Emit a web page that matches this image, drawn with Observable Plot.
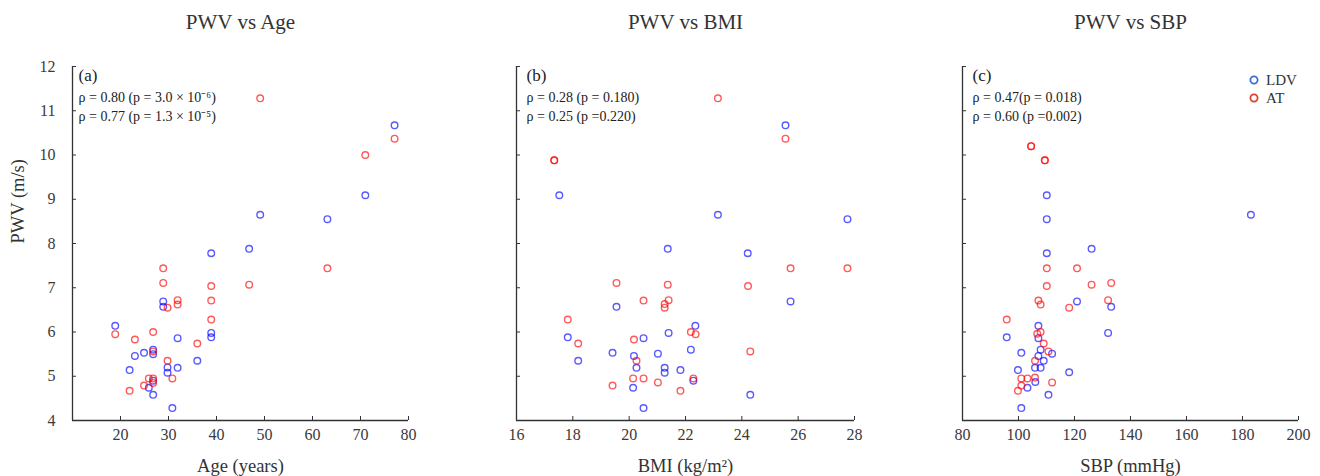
<!DOCTYPE html>
<html><head><meta charset="utf-8">
<script src="https://cdn.jsdelivr.net/npm/d3@7"></script>
<script src="https://cdn.jsdelivr.net/npm/@observablehq/plot@0.6"></script>
<style>
body{margin:0;background:#fff;}
#wrap{position:relative;width:1320px;height:476px;font-family:"Liberation Serif","Times New Roman",serif;}
#wrap > svg{position:absolute;top:0;}
#wrap svg text{font-family:"Liberation Serif","Times New Roman",serif;}
#legend{position:absolute;left:1248px;top:71px;font-size:15px;color:#333;line-height:18px;}
#legend div{display:flex;align-items:center;}
#legend svg{margin-right:6px;}
</style></head><body><div id="wrap"><div id="legend"></div></div>
<script>
// ---- data ----
const yTicks = [4,5,6,7,8,9,10,11,12];
const yDomain = [4,12];
const yLabel = "PWV (m/s)";

const titles = ["PWV vs Age","PWV vs BMI","PWV vs SBP"];
const tags = ["(a)","(b)","(c)"];
const xLabels = ["Age (years)","BMI (kg/m²)","SBP (mmHg)"];
const rhoLDV = ["ρ = 0.80 (p = 3.0 × 10⁻⁶)","ρ = 0.28 (p = 0.180)","ρ = 0.47(p = 0.018)"];
const rhoAT  = ["ρ = 0.77 (p = 1.3 × 10⁻⁵)","ρ = 0.25 (p =0.220)","ρ = 0.60 (p =0.002)"];
const legendLabels = ["LDV","AT"];

const ageTicks = [20,30,40,50,60,70,80];
const bmiTicks = [16,18,20,22,24,26,28];
const sbpTicks = [80,100,120,140,160,180,200];

// Panel (a): Age
const ageLDV = [77.1,71.0,49.1,63.1,46.8,38.9,28.9,28.9,18.9,38.9,38.9,31.9,24.9,23.0,26.8,26.8,36.0,29.8,29.8,31.9,21.9,26.8,25.9,26.8,30.8];
const pwvAgeLDV = [10.67,9.09,8.65,8.55,7.88,7.78,6.69,6.57,6.14,5.98,5.88,5.86,5.53,5.46,5.60,5.50,5.35,5.20,5.08,5.19,5.14,4.90,4.74,4.58,4.28];
const ageAT = [49.1,77.1,71.0,28.9,63.1,28.9,38.9,46.8,29.8,31.9,31.9,38.9,38.9,18.9,26.8,23.0,36.0,26.8,29.8,25.9,26.8,30.8,26.8,24.9,21.9];
const pwvAgeAT = [11.28,10.37,10.00,7.44,7.44,7.11,7.04,7.07,6.55,6.72,6.62,6.71,6.28,5.95,6.00,5.83,5.74,5.56,5.35,4.95,4.95,4.95,4.85,4.79,4.67];

// Panel (b): BMI
const bmiLDV = [25.55,17.52,23.15,27.75,21.37,24.21,25.73,19.55,22.35,21.40,17.82,20.51,22.19,19.41,21.02,20.17,18.19,20.26,21.26,21.26,21.82,22.28,20.14,24.30,20.51];
const pwvBmiLDV = [10.67,9.09,8.65,8.55,7.88,7.78,6.69,6.57,6.14,5.98,5.88,5.86,5.60,5.53,5.51,5.46,5.35,5.19,5.19,5.08,5.14,4.90,4.74,4.58,4.28];
const bmiAT = [23.15,25.55,17.34,17.34,25.73,27.75,19.55,21.37,24.22,20.51,21.40,21.26,21.26,17.82,22.19,22.36,20.17,18.19,24.30,20.26,20.14,20.51,22.28,21.02,19.41,21.82];
const pwvBmiAT = [11.28,10.37,9.88,9.88,7.44,7.44,7.11,7.07,7.04,6.71,6.72,6.63,6.55,6.28,6.00,5.95,5.83,5.74,5.56,5.35,4.95,4.95,4.95,4.86,4.79,4.67];

// Panel (c): SBP
const sbpLDV = [110.1,183.0,110.1,126.1,110.1,120.9,133.1,107.1,132.0,107.1,95.8,107.9,101.0,112.0,107.1,109.0,105.9,107.9,99.8,118.1,106.0,103.2,110.7,101.0];
const pwvSbpLDV = [9.09,8.65,8.55,7.88,7.78,6.69,6.57,6.14,5.98,5.86,5.88,5.60,5.53,5.51,5.46,5.35,5.19,5.19,5.14,5.09,4.87,4.74,4.58,4.28];
const sbpAT = [104.5,104.5,109.4,109.4,110.1,120.9,110.1,126.1,133.1,107.1,107.9,132.0,118.1,95.8,107.9,106.7,109.0,110.7,105.9,101.0,103.2,105.9,112.0,101.0,99.8];
const pwvSbpAT = [10.20,10.20,9.88,9.88,7.44,7.44,7.04,7.07,7.11,6.71,6.62,6.72,6.55,6.28,6.00,5.96,5.74,5.56,5.35,4.95,4.95,4.97,4.86,4.79,4.67];

// ---- build ----
const zip = (xs, ys) => xs.map((x,i)=>({x, y: ys[i]}));
const panels = [
  {left:0,   ml:72, mr:32, domain:[10,80],  ticks:ageTicks, ldv:zip(ageLDV,pwvAgeLDV), at:zip(ageAT,pwvAgeAT), showY:true,  tdx:6},
  {left:440, ml:76, mr:26, domain:[16,28],  ticks:bmiTicks, ldv:zip(bmiLDV,pwvBmiLDV), at:zip(bmiAT,pwvBmiAT), showY:false, tdx:10},
  {left:880, ml:82, mr:22, domain:[80,200], ticks:sbpTicks, ldv:zip(sbpLDV,pwvSbpLDV), at:zip(sbpAT,pwvSbpAT), showY:false, tdx:10}
];
const ink = "#333";
const font = '"Liberation Serif","Times New Roman",serif';
const wrap = document.getElementById("wrap");
panels.forEach((p,i)=>{
  const marks = [
    Plot.ruleX([p.domain[0]], {stroke:ink, strokeWidth:1.3}),
    Plot.ruleY([yDomain[0]], {stroke:ink, strokeWidth:1.3}),
    Plot.axisY({ticks:yTicks, anchor:"left", tickSize:4, dx:4, text:null, label:null, stroke:ink}),
    Plot.axisX({ticks:p.ticks, anchor:"bottom", tickSize:4, dy:-4, text:null, label:null, stroke:ink}),
    Plot.axisX({ticks:p.ticks, anchor:"bottom", tickSize:0, tickPadding:8, fontSize:16, fill:"#3a3a3a", label:null}),
    p.showY ? Plot.axisY({ticks:yTicks, anchor:"left", tickSize:0, tickPadding:17, fontSize:16, fill:"#3a3a3a", label:null}) : null,
    Plot.text([xLabels[i]], {text:d=>d, frameAnchor:"bottom", dy:46, fontSize:18.5, fill:ink, lineAnchor:"middle"}),
    p.showY ? Plot.text([yLabel], {text:d=>d, frameAnchor:"left", dx:-54, rotate:-90, fontSize:18.5, fill:ink, lineAnchor:"middle"}) : null,
    Plot.dot(p.ldv, {x:"x", y:"y", r:3.3, stroke:"#0000ff", strokeOpacity:0.65, strokeWidth:1.4}),
    Plot.dot(p.at,  {x:"x", y:"y", r:3.3, stroke:"#ff0000", strokeOpacity:0.65, strokeWidth:1.4}),
    Plot.text([titles[i]], {text:d=>d, frameAnchor:"top", dy:-44, fontSize:21, fill:ink, lineAnchor:"middle"}),
    Plot.text([tags[i]], {text:d=>d, frameAnchor:"top-left", textAnchor:"start", dx:p.tdx, dy:9, fontSize:17, fill:"#222", lineAnchor:"middle"}),
    Plot.text([rhoLDV[i]], {text:d=>d, frameAnchor:"top-left", textAnchor:"start", dx:p.tdx, dy:31.5, fontSize:14, fill:"#222", lineAnchor:"middle"}),
    Plot.text([rhoAT[i]], {text:d=>d, frameAnchor:"top-left", textAnchor:"start", dx:p.tdx, dy:50.5, fontSize:14, fill:"#222", lineAnchor:"middle"})
  ];
  const svg = Plot.plot({
    width:440, height:476,
    marginLeft:p.ml, marginRight:p.mr, marginTop:66, marginBottom:56,
    style:{fontFamily:font, background:"transparent", color:ink},
    x:{domain:p.domain},
    y:{domain:yDomain},
    marks
  });
  svg.style.left = p.left + "px";
  wrap.appendChild(svg);
});

// legend
const legColors = ["#3b6fd6","#e0402a"];
const leg = d3.select("#legend");
legendLabels.forEach((t,i)=>{
  const row = leg.append("div");
  row.append("svg").attr("width",12).attr("height",12)
    .append("circle").attr("cx",6).attr("cy",6).attr("r",3.6)
    .attr("fill","none").attr("stroke",legColors[i]).attr("stroke-width",1.8);
  row.append("span").text(t);
});
</script></body></html>
